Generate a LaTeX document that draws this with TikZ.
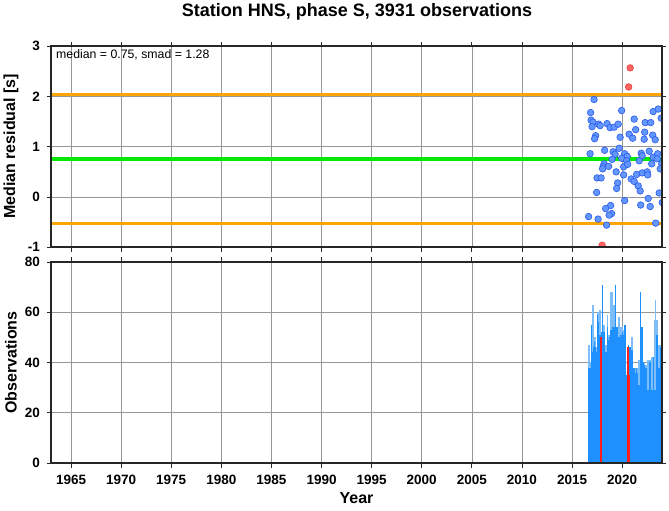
\documentclass[tikz,border=0pt]{standalone}
\usepackage{fontspec}
\setmainfont{Liberation Sans}
\usetikzlibrary{positioning}
\definecolor{gridgray}{RGB}{150,150,150}
\definecolor{medgreen}{RGB}{0,235,0}
\definecolor{limorange}{RGB}{255,165,0}
\definecolor{dotblue}{RGB}{100,150,255}
\definecolor{dotedge}{RGB}{40,90,235}
\definecolor{dotred}{RGB}{255,100,100}
\definecolor{dotrededge}{RGB}{235,60,60}
\definecolor{bardark}{RGB}{30,144,255}
\definecolor{barlight}{RGB}{125,190,250}
\definecolor{barred}{RGB}{255,30,30}

\begin{document}
\begin{tikzpicture}[x=1pt,y=1pt,
    frame/.style={draw=black!85,line width=1.6pt},
    gridline/.style={draw=gridgray,line width=0.5pt},
    tick/.style={draw=black!85,line width=0.8pt},
    ticklabel/.style={font=\bfseries\fontsize{13.5}{16}\selectfont,inner sep=0pt},
    axislabel/.style={font=\bfseries\fontsize{16}{19}\selectfont,inner sep=0pt},
    resid/.style={fill=dotblue,draw=dotedge,line width=0.6pt},
    outlier/.style={fill=dotred,draw=dotrededge,line width=0.6pt}]
    \useasboundingbox (0,0) rectangle (669,511);

    \node (title) at (357,499) [font=\bfseries\fontsize{18}{21}\selectfont] {Station HNS, phase S, 3931 observations};
    \node (resLabel) at (11,364.5) [axislabel,rotate=90] {Median residual [s]};
    \node (obsLabel) at (11,148.5) [axislabel,rotate=90] {Observations};
    \node (yearLabel) at (356.5,13) [axislabel] {Year};

    % residuals
    \begin{scope}[shift={(421.74,314)},x=10.02pt,y=50.25pt]
        \foreach \yr in {1965,1970,...,2020}
            \draw[gridline] ({\yr-2000},-1) -- ({\yr-2000},3);
        \foreach \v in {0,1,2}
            \draw[gridline] (-37,\v) -- (24,\v);
        \draw[limorange,line width=3pt] (-37,2.03) -- (24,2.03);
        \draw[limorange,line width=3pt] (-37,-0.53) -- (24,-0.53);
        \draw[medgreen,line width=4pt] (-37,0.75) -- (24,0.75);
        \begin{scope}
            \clip (-37,-1) rectangle (24,3);
            \foreach \t/\r in {17.2/1.94, 16.85/1.68, 16.9/1.53, 17.1/1.49, 17.0/1.40, 17.65/1.45, 17.8/1.42,
                17.35/1.22, 17.25/1.16, 18.5/1.46, 18.8/1.38, 19.2/1.39, 19.6/1.45, 19.95/1.72, 19.8/1.19,
                21.2/1.55, 20.7/1.25, 21.05/1.17, 21.35/1.34, 22.3/1.48, 22.85/1.48, 23.1/1.70, 23.6/1.75,
                23.9/1.57, 22.25/1.29, 22.2/1.15, 23.05/1.23, 23.3/1.14, 16.8/0.86, 18.25/0.93, 19.1/0.90,
                19.3/0.85, 19.7/0.97, 20.25/0.86, 20.5/0.81, 19.95/0.77, 19.0/0.75, 20.45/0.72, 18.2/0.66,
                18.1/0.60, 18.05/0.56, 18.65/0.61, 19.4/0.50, 20.15/0.60, 20.55/0.65, 20.15/0.44, 21.9/0.87,
                22.0/0.82, 21.7/0.72, 22.7/0.91, 23.1/0.79, 22.95/0.66, 23.55/0.86, 23.5/0.76, 23.95/0.66,
                23.8/0.56, 17.5/0.38, 17.9/0.38, 19.55/0.28, 19.45/0.17, 20.9/0.36, 21.2/0.31, 21.45/0.45,
                21.6/0.22, 21.8/0.12, 22.0/0.48, 22.5/0.50, 22.55/0.44, 17.45/0.09, 20.25/-0.07, 23.7/0.08,
                24.0/-0.11, 22.6/-0.03, 21.85/-0.16, 22.8/-0.19, 18.85/-0.17, 18.35/-0.23, 18.95/-0.33,
                18.7/-0.36, 16.65/-0.39, 17.6/-0.44, 18.45/-0.56, 23.35/-0.52}
                \draw[resid] (\t,\r) circle (3.3pt);
            \foreach \t/\r in {20.8/2.57, 20.65/2.19, 18.0/-0.96}
                \draw[outlier] (\t,\r) circle (3.3pt);
        \end{scope}
        \draw[frame] (-37,-1) rectangle (24,3);
        \foreach \yr in {1965,1970,...,2020} {
            \draw[tick] ({\yr-2000},-1) -- ++(0,-5pt);
            \draw[tick] ({\yr-2000},3) -- ++(0,4pt);
        }
        \foreach \v in {-1,0,1,2,3} {
            \draw[tick] (-37,\v) -- ++(-4pt,0);
            \draw[tick] (24,\v) -- ++(4pt,0);
            \node (res\v) at (-37,\v) [ticklabel,left=11pt] {\v};
        }
        \node (stats) at (-37,3) [anchor=north west,xshift=5pt,yshift=-3pt,inner sep=0pt,
            font=\fontsize{12.3}{14}\selectfont] {median = 0.75, smad = 1.28};
    \end{scope}

    % observations per bin
    \begin{scope}[shift={(421.74,48)},x=10.02pt,y=2.5125pt]
        \foreach \yr in {1965,1970,...,2020}
            \draw[gridline] ({\yr-2000},0) -- ({\yr-2000},80);
        \foreach \v in {20,40,60}
            \draw[gridline] (-37,\v) -- (24,\v);
        \begin{scope}
            \clip (-37,0) rectangle (24,80);
            \foreach \hl/\hd [count=\i from 0] in {47/38, 47/38, 40/38, 55/55, 63/44, 63/46, 50/48, 50/46,
                46/44, 60/59, 60/56, 61/51, 61/51, 52/52, 71/71, 55/52, 55/52, 47/44, 47/44, 59/54,
                51/49, 51/50, 68/53, 68/53, 68/54, 63/54, 63/54, 71/71, 54/54, 54/54, 58/50, 58/50,
                54/51, 54/51, 54/52, 53/51, 55/55, 55/55, 35/35, 35/35, 47/47, 46/46, 46/46, 50/45,
                50/45, 38/38, 38/38, 38/36, 38/38, 38/36, 41/31, 41/31, 68/68, 54/54, 54/54, 40/40,
                40/39, 39/38, 39/38, 41/29, 41/29, 41/40, 41/40, 42/29, 42/29, 42/42, 57/29, 65/29,
                57/51, 57/51, 47/38, 47/38, 47/46, 48/46} {
                \fill[barlight] ({16.6+0.1*\i},0) rectangle ++(0.1,\hl);
                \fill[bardark] ({16.6+0.1*\i},0) rectangle ++(0.1,\hd);
            }
            \fill[barred] (17.82,0) rectangle (17.98,50);
            \fill[barred] (20.52,0) rectangle (20.64,46);
            \fill[barred] (20.64,0) rectangle (20.78,35);
        \end{scope}
        \draw[frame] (-37,0) rectangle (24,80);
        \foreach \yr in {1965,1970,...,2020} {
            \draw[tick] ({\yr-2000},0) -- ++(0,-5pt);
            \draw[tick] ({\yr-2000},80) -- ++(0,5pt);
            \node (yr\yr) at ({\yr-2000},0) [ticklabel,below=12pt] {\yr};
        }
        \foreach \v in {0,20,...,80} {
            \draw[tick] (-37,\v) -- ++(-4pt,0);
            \draw[tick] (24,\v) -- ++(4pt,0);
            \node (obs\v) at (-37,\v) [ticklabel,left=11pt] {\v};
        }
    \end{scope}
\end{tikzpicture}
\end{document}
